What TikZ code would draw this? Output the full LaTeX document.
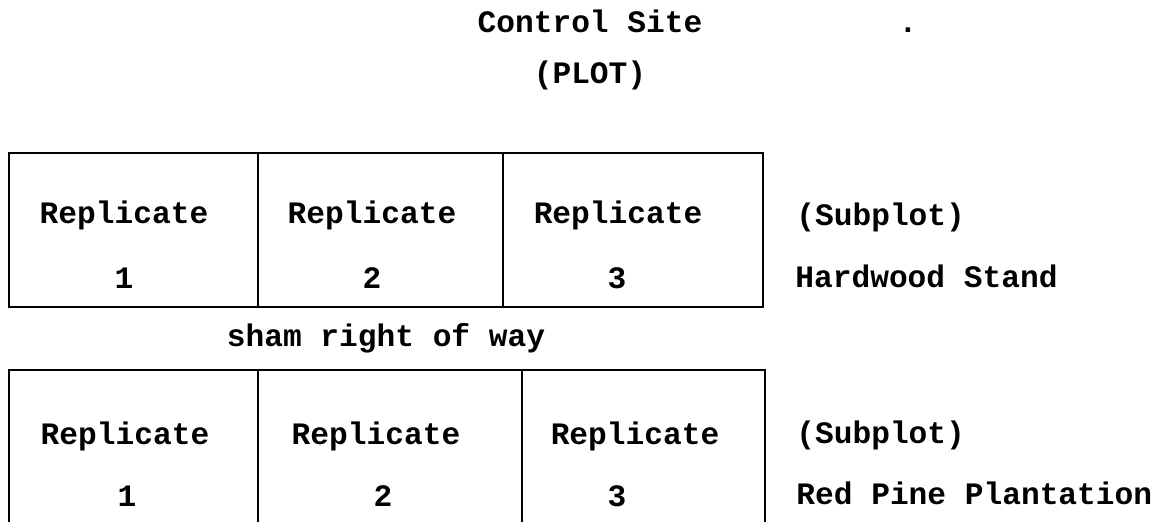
\documentclass[tikz,border=0pt]{standalone}
\usepackage{fontspec}
\newfontfamily\tw{Liberation Mono}
\begin{document}
\begin{tikzpicture}[x=0.5pt,y=-0.5pt,
  cell/.style={draw, line width=1.4pt, inner sep=0pt, outer sep=0pt},
  txt/.style={font=\tw\bfseries\fontsize{15.6}{18}\selectfont, inner sep=0pt, anchor=base},
  lbl/.style={txt, anchor=base west}]
\useasboundingbox (0,0) rectangle (1157,522);
\clip (0,0) rectangle (1157,522);
% titles
\node[txt] (title) at (590,33) {Control Site};
\node[txt] (dot) at (908,33) {.};
\node[txt] (plot) at (590,84) {(PLOT)};
% top table (Hardwood Stand)
\node[cell, minimum width=124.5pt, minimum height=77pt] (t1) at (133.5,230) {};
\node[cell, minimum width=122.5pt, minimum height=77pt] (t2) at (380.5,230) {};
\node[cell, minimum width=130pt, minimum height=77pt] (t3) at (633,230) {};
\node[txt] (t1a) at (124,224) {Replicate};
\node[txt] (t1b) at (124,289) {1};
\node[txt] (t2a) at (372,224) {Replicate};
\node[txt] (t2b) at (372,289) {2};
\node[txt] (t3a) at (618,224) {Replicate};
\node[txt] (t3b) at (617,289) {3};
\node[lbl] (ts) at (796,226) {(Subplot)};
\node[lbl] (th) at (795,288) {Hardwood Stand};
% sham right of way
\node[txt] (sham) at (386,347) {sham right of way};
% bottom table (Red Pine Plantation)
\node[cell, minimum width=124.5pt, minimum height=85pt] (b1) at (133.5,455) {};
\node[cell, minimum width=132pt, minimum height=85pt] (b2) at (390,455) {};
\node[cell, minimum width=121.5pt, minimum height=85pt] (b3) at (643.5,455) {};
\node[txt] (b1a) at (125,445) {Replicate};
\node[txt] (b1b) at (127,507) {1};
\node[txt] (b2a) at (376,445) {Replicate};
\node[txt] (b2b) at (383,507) {2};
\node[txt] (b3a) at (635,445) {Replicate};
\node[txt] (b3b) at (617,507) {3};
\node[lbl] (bs) at (796,444) {(Subplot)};
\node[lbl] (br) at (796,505) {Red Pine Plantation};
\end{tikzpicture}
\end{document}
